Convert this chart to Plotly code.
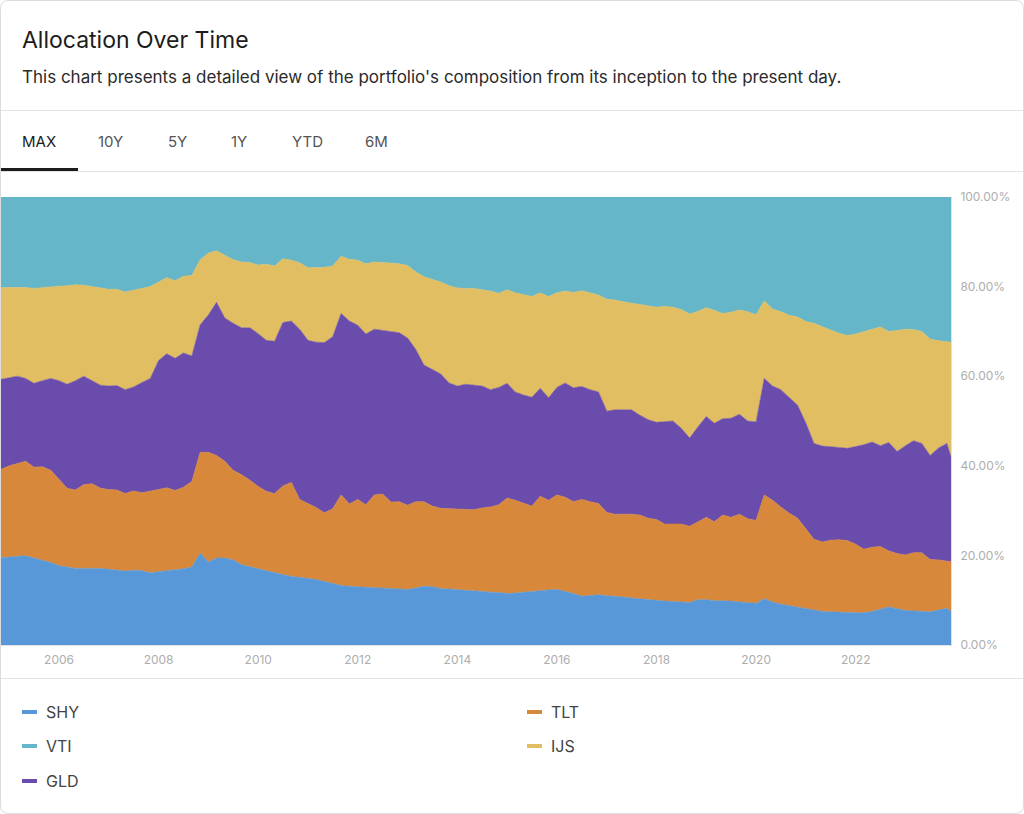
import plotly.graph_objects as go
import pandas as pd

# ---------------- data (percent allocation) ----------------
dates = list(pd.date_range("2004-11-01", periods=115, freq="2MS")) + [pd.Timestamp("2023-12-01")]

SHY = [19.5, 19.6, 19.8, 19.9, 19.4, 18.9, 18.4, 17.7, 17.4, 17.1,
       17.1, 17.1, 17.1, 16.9, 16.7, 16.5, 16.7, 16.6, 16.1, 16.4,
       16.6, 16.8, 17.0, 17.4, 20.5, 18.5, 19.4, 19.4, 19.0, 17.9,
       17.4, 17.0, 16.6, 16.2, 15.7, 15.3, 15.1, 14.9, 14.6, 14.2,
       13.8, 13.3, 13.1, 13.0, 12.9, 12.9, 12.8, 12.6, 12.5, 12.4,
       12.7, 13.1, 13.0, 12.6, 12.5, 12.3, 12.2, 12.1, 11.9, 11.8,
       11.7, 11.5, 11.6, 11.8, 12.0, 12.2, 12.3, 12.4, 12.0, 11.5,
       10.9, 11.1, 11.2, 11.0, 10.9, 10.7, 10.5, 10.3, 10.1, 9.9,
       9.8, 9.7, 9.6, 9.5, 10.1, 10.1, 9.9, 9.9, 9.8, 9.6,
       9.5, 9.3, 10.3, 9.6, 9.1, 8.8, 8.5, 8.1, 7.8, 7.5,
       7.4, 7.3, 7.3, 7.2, 7.2, 7.5, 8.0, 8.5, 8.1, 7.7,
       7.6, 7.5, 7.4, 7.8, 8.2, 7.5]

TLT = [19.7, 20.4, 20.7, 21.1, 20.3, 20.9, 20.6, 19.3, 17.6, 17.5,
       18.7, 18.9, 17.9, 17.8, 17.9, 17.3, 17.7, 17.4, 18.2, 18.3,
       18.5, 17.7, 18.2, 19.1, 22.5, 24.5, 22.9, 21.6, 20.0, 20.1,
       19.4, 18.4, 17.7, 17.6, 19.8, 21.0, 17.4, 16.6, 16.1, 15.3,
       16.6, 20.2, 18.4, 19.5, 18.4, 20.6, 20.9, 19.3, 19.5, 18.8,
       19.3, 18.9, 18.0, 17.9, 17.9, 18.1, 18.0, 18.1, 18.7, 19.0,
       19.6, 21.3, 20.7, 19.8, 19.0, 21.0, 20.0, 21.1, 21.0, 20.5,
       21.6, 20.9, 20.4, 18.6, 18.3, 18.5, 18.7, 18.7, 18.2, 18.1,
       17.2, 17.3, 17.4, 17.0, 17.4, 18.4, 17.6, 19.1, 18.7, 19.6,
       18.7, 18.5, 23.2, 22.7, 21.7, 20.6, 19.8, 17.8, 15.8, 15.5,
       16.0, 16.2, 16.0, 15.3, 14.2, 14.3, 14.0, 12.5, 12.3, 12.4,
       13.0, 13.1, 11.7, 11.2, 10.6, 11.1]

GLD = [20.1, 19.6, 19.5, 18.5, 18.7, 19.2, 20.5, 22.0, 23.2, 24.4,
       24.2, 23.0, 23.0, 23.1, 23.3, 23.2, 23.2, 24.6, 25.2, 28.8,
       29.9, 29.5, 30.0, 28.0, 28.5, 30.7, 34.2, 32.0, 32.8, 32.8,
       34.0, 34.1, 33.7, 34.0, 36.5, 36.0, 38.0, 36.5, 36.9, 38.0,
       38.4, 40.5, 40.8, 38.9, 38.1, 37.0, 36.5, 38.0, 37.7, 37.3,
       34.0, 30.5, 30.5, 30.0, 28.1, 27.4, 28.0, 27.8, 27.2, 26.2,
       26.2, 25.6, 24.2, 24.2, 24.3, 24.1, 22.9, 24.0, 25.5, 25.4,
       25.2, 25.0, 24.9, 22.6, 23.3, 23.3, 23.3, 22.3, 22.0, 21.7,
       22.8, 23.0, 21.4, 19.7, 21.2, 22.5, 22.0, 21.5, 22.1, 22.3,
       21.8, 22.0, 26.0, 25.5, 26.2, 25.9, 25.2, 23.6, 21.4, 21.4,
       20.9, 20.6, 20.6, 21.8, 23.3, 23.5, 22.5, 24.2, 22.8, 24.4,
       25.0, 24.4, 23.2, 25.0, 26.2, 23.4]

IJS = [20.5, 20.2, 19.8, 20.3, 21.2, 20.8, 20.5, 21.1, 22.0, 21.4,
       20.3, 21.0, 21.6, 21.6, 21.5, 21.8, 21.6, 21.0, 20.5, 17.5,
       17.0, 17.3, 17.1, 18.0, 14.5, 13.8, 11.5, 14.0, 14.2, 14.7,
       14.6, 15.3, 17.0, 16.8, 14.2, 13.6, 14.8, 16.2, 16.6, 16.8,
       15.8, 12.8, 13.8, 14.5, 15.7, 15.0, 15.2, 15.3, 15.4, 16.2,
       17.3, 19.7, 20.1, 20.5, 21.7, 21.9, 21.4, 21.6, 21.5, 22.0,
       21.0, 20.9, 22.1, 22.4, 22.5, 21.3, 22.6, 21.1, 20.5, 21.3,
       21.4, 21.6, 21.6, 25.0, 24.5, 24.1, 23.8, 24.6, 25.3, 25.7,
       25.8, 25.4, 26.5, 27.7, 25.8, 24.3, 25.2, 23.5, 23.7, 23.3,
       24.4, 23.9, 17.3, 17.2, 17.4, 18.3, 19.7, 22.7, 26.8, 26.6,
       26.0, 25.5, 25.2, 25.1, 25.3, 25.2, 26.5, 24.8, 27.0, 26.0,
       24.8, 25.0, 26.0, 23.9, 22.7, 25.5]

VTI = [20.2, 20.2, 20.2, 20.2, 20.4, 20.2, 20.0, 19.9, 19.8, 19.6,
       19.7, 20.0, 20.4, 20.6, 20.6, 21.2, 20.8, 20.4, 20.0, 19.0,
       18.0, 18.7, 17.7, 17.5, 14.0, 12.5, 12.0, 13.0, 14.0, 14.5,
       14.6, 15.2, 15.0, 15.4, 13.8, 14.1, 14.7, 15.8, 15.8, 15.7,
       15.4, 13.2, 13.9, 14.1, 14.9, 14.5, 14.6, 14.8, 14.9, 15.3,
       16.7, 17.8, 18.4, 19.0, 19.8, 20.3, 20.4, 20.4, 20.7, 21.0,
       21.5, 20.7, 21.4, 21.8, 22.2, 21.4, 22.2, 21.4, 21.0, 21.3,
       20.9, 21.4, 21.9, 22.8, 23.0, 23.4, 23.7, 24.1, 24.4, 24.6,
       24.4, 24.6, 25.1, 26.1, 25.5, 24.7, 25.3, 26.0, 25.7, 25.2,
       25.6, 26.3, 23.2, 25.0, 25.6, 26.4, 26.8, 27.8, 28.2, 29.0,
       29.7, 30.4, 30.9, 30.6, 30.0, 29.5, 29.0, 30.0, 29.8, 29.5,
       29.6, 30.0, 31.7, 32.1, 32.3, 32.5]

stack_order = ["SHY", "TLT", "GLD", "IJS", "VTI"]
series = {"SHY": SHY, "TLT": TLT, "GLD": GLD, "IJS": IJS, "VTI": VTI}
colors = {"SHY": "#5898D8", "TLT": "#D8883A", "GLD": "#6A4CAC",
          "IJS": "#E2BE62", "VTI": "#64B6C8"}
legend_order = ["SHY", "TLT", "VTI", "IJS", "GLD"]

y_tick_vals = [0, 20, 40, 60, 80, 100]
y_tick_text = ["0.00%", "20.00%", "40.00%", "60.00%", "80.00%", "100.00%"]

title_text = "Allocation Over Time"
subtitle_text = "This chart presents a detailed view of the portfolio's composition from its inception to the present day."
tabs = ["MAX", "10Y", "5Y", "1Y", "YTD", "6M"]

# ---------------- layout geometry (pixels) ----------------
W, H = 1024, 814
L, R, T, B = 1, 73, 197, 169
PW, PH = W - L - R, H - T - B
FONT = "Inter, 'Noto Sans', sans-serif"


def px(x):
    return (x - L) / PW


def py(y):
    return (H - B - y) / PH


fig = go.Figure()
for name in stack_order:
    fig.add_trace(go.Scatter(
        x=dates, y=series[name], name=name, mode="lines",
        stackgroup="one", groupnorm="percent",
        line=dict(width=0.6, color=colors[name]),
        fillcolor=colors[name], showlegend=False,
        hovertemplate="%{y:.2f}%<extra>" + name + "</extra>",
    ))

annotations = []
shapes = []

# header texts
annotations.append(dict(text=title_text, x=px(20), y=py(40), xref="paper", yref="paper",
                        xanchor="left", yanchor="middle", showarrow=False,
                        font=dict(family=FONT, size=23, color="#1c1c1c")))
annotations.append(dict(text=subtitle_text, x=px(20), y=py(77), xref="paper", yref="paper",
                        xanchor="left", yanchor="middle", showarrow=False,
                        font=dict(family=FONT, size=17, color="#2a2a2a")))

tab_x = [20, 96, 166, 229, 290, 363]
for i, (t, tx) in enumerate(zip(tabs, tab_x)):
    annotations.append(dict(text=t, x=px(tx), y=py(141), xref="paper", yref="paper",
                            xanchor="left", yanchor="middle", showarrow=False,
                            font=dict(family=FONT, size=15,
                                      color="#1c1c1c" if i == 0 else "#555555")))

# dividers
for yy in (110.5, 171.5, 678.5):
    shapes.append(dict(type="line", xref="paper", yref="paper",
                       x0=px(0), x1=px(W), y0=py(yy), y1=py(yy),
                       line=dict(color="#e2e2e2", width=1)))
# active tab underline
shapes.append(dict(type="rect", xref="paper", yref="paper",
                   x0=px(0), x1=px(78), y0=py(168), y1=py(171),
                   fillcolor="#1c1c1c", line=dict(width=0)))

# card border with rounded corners
r = 8
x0b, y0b, x1b, y1b = 0.5, 0.5, W - 0.5, H - 0.5
pts = [
    ("M", (x0b + r, y0b)), ("L", (x1b - r, y0b)),
    ("Q", (x1b, y0b), (x1b, y0b + r)), ("L", (x1b, y1b - r)),
    ("Q", (x1b, y1b), (x1b - r, y1b)), ("L", (x0b + r, y1b)),
    ("Q", (x0b, y1b), (x0b, y1b - r)), ("L", (x0b, y0b + r)),
    ("Q", (x0b, y0b), (x0b + r, y0b)),
]
path = ""
for p in pts:
    cmd = p[0]
    coords = " ".join(f"{px(c[0]):.6f},{py(c[1]):.6f}" for c in p[1:])
    path += f"{cmd} {coords} "
path += "Z"
shapes.append(dict(type="path", xref="paper", yref="paper", path=path,
                   line=dict(color="#dcdcdc", width=1), fillcolor="rgba(0,0,0,0)"))

# custom legend (two columns)
col_x = [22, 527]
row_y = [712, 746, 781]
for i, name in enumerate(legend_order):
    cx = col_x[i % 2]
    ry = row_y[i // 2]
    shapes.append(dict(type="line", xref="paper", yref="paper",
                       x0=px(cx), x1=px(cx + 15), y0=py(ry), y1=py(ry),
                       line=dict(color=colors[name], width=4)))
    annotations.append(dict(text=name, x=px(cx + 22), y=py(ry), xref="paper", yref="paper",
                            xanchor="left", yanchor="middle", showarrow=False,
                            font=dict(family=FONT, size=16, color="#444444")))

fig.update_layout(
    width=W, height=H,
    margin=dict(l=L, r=R, t=T, b=B, pad=0),
    paper_bgcolor="white", plot_bgcolor="white",
    font=dict(family=FONT),
    showlegend=False,
    annotations=annotations, shapes=shapes,
    hovermode="x unified",
    xaxis=dict(type="date", range=[dates[0], dates[-1]],
               tick0="2006-01-01", dtick="M24", tickformat="%Y",
               showgrid=False, zeroline=False, showline=True,
               linecolor="#e0e0e0", linewidth=1, ticks="",
               ticklabelstandoff=4,
               tickfont=dict(family=FONT, size=12, color="#adadad")),
    yaxis=dict(side="right", range=[0, 100], tickmode="array",
               tickvals=y_tick_vals, ticktext=y_tick_text,
               showgrid=False, zeroline=False, showline=True,
               linecolor="#e0e0e0", linewidth=1, ticks="",
               ticklabelstandoff=6,
               tickfont=dict(family=FONT, size=12, color="#adadad")),
)

fig.write_html("out.html", config={"displayModeBar": False},
               post_script="document.body.style.margin='0';document.body.style.padding='0';")
